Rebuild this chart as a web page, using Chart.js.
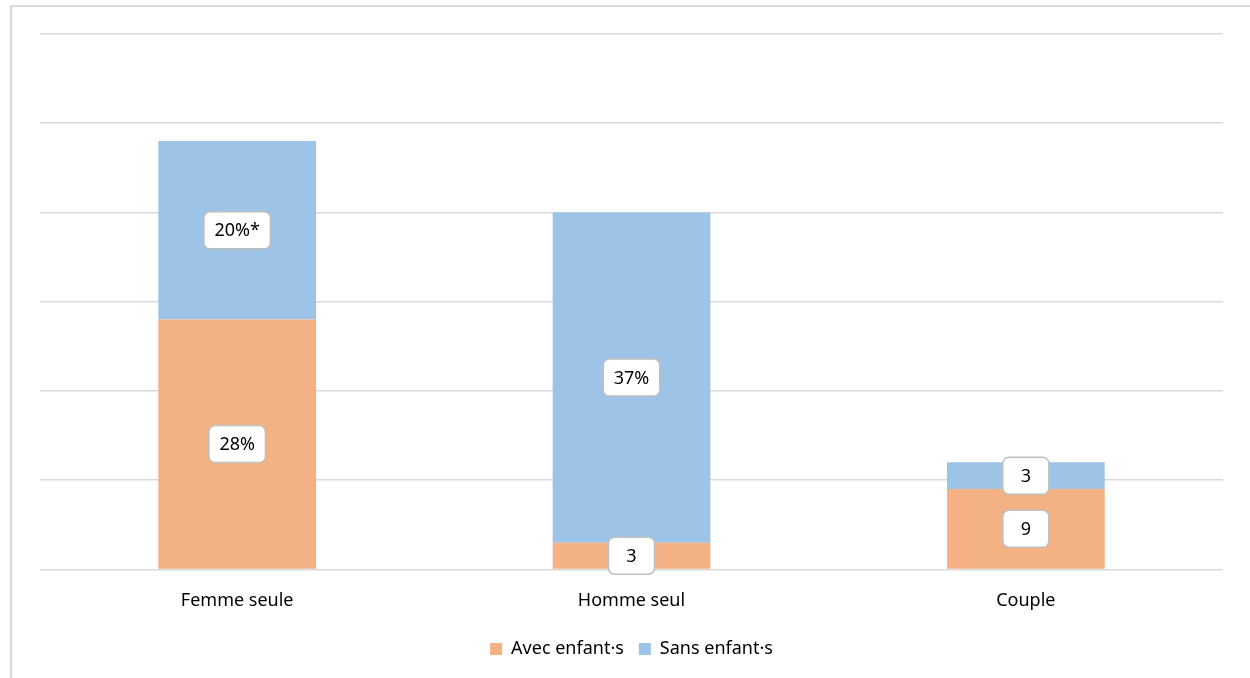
<!DOCTYPE html>
<html>
<head>
<meta charset="utf-8">
<script src="https://cdn.jsdelivr.net/npm/chart.js@4/dist/chart.umd.min.js"></script>
<style>
  body { margin: 0; background: #fff; }
  #frame { position: absolute; left: 10px; top: 5px; width: 1260px; height: 700px; border: 2px solid #d9d9d9; box-sizing: border-box; }
  #chart { position: absolute; left: 0; top: 0; }
</style>
</head>
<body>
<div id="frame"></div>
<canvas id="chart" width="1250" height="678"></canvas>
<script>
// categories and values
const categories = ['Femme seule', 'Homme seul', 'Couple'];
const avecEnfants = [28, 3, 9];
const sansEnfants = [20, 37, 3];
const avecLabels = ['28%', '3', '9'];
const sansLabels = ['20%*', '37%', '3'];

const FONT = '"Noto Sans", sans-serif';

// LABEL BOXES IN THE MIDDLE OF EACH SEGMENT
const boxLabels = {
  id: 'boxLabels',
  afterDatasetsDraw(chart) {
    const ctx = chart.ctx;
    ctx.save();
    ctx.font = '18px ' + FONT;
    ctx.textAlign = 'center';
    ctx.textBaseline = 'middle';
    chart.data.datasets.forEach((ds, i) => {
      const meta = chart.getDatasetMeta(i);
      meta.data.forEach((bar, j) => {
        const txt = ds.labels[j];
        const cy = (bar.y + bar.base) / 2;
        const w = Math.max(ctx.measureText(txt).width + 21, 46);
        const h = 37;
        ctx.beginPath();
        ctx.roundRect(bar.x - w / 2, cy - h / 2, w, h, 6);
        ctx.fillStyle = '#fff';
        ctx.fill();
        ctx.lineWidth = 1.5;
        ctx.strokeStyle = '#bfbfbf';
        ctx.stroke();
        ctx.fillStyle = '#000';
        ctx.fillText(txt, bar.x, cy + 1);
      });
    });
    ctx.restore();
  }
};

new Chart(document.getElementById('chart'), {
  type: 'bar',
  data: {
    labels: categories,
    datasets: [
      { label: 'Avec enfant·s', data: avecEnfants, labels: avecLabels, backgroundColor: '#f4b183' },
      { label: 'Sans enfant·s', data: sansEnfants, labels: sansLabels, backgroundColor: '#9dc3e6' }
    ]
  },
  options: {
    responsive: false,
    animation: false,
    layout: { padding: { left: 40, right: 27, top: 34, bottom: 10 } },
    datasets: { bar: { categoryPercentage: 1, barPercentage: 0.4 } },
    scales: {
      x: {
        stacked: true,
        grid: { display: false },
        border: { display: false },
        ticks: { color: '#000', font: { family: FONT, size: 18 }, padding: 13 }
      },
      y: {
        stacked: true,
        min: 0, max: 60,
        ticks: { display: false, stepSize: 10 },
        grid: { color: '#d9d9d9', lineWidth: 1.5, drawTicks: false },
        border: { display: false }
      }
    },
    plugins: {
      legend: {
        position: 'bottom',
        labels: { color: '#000', font: { family: FONT, size: 18, lineHeight: 0.5 }, boxWidth: 12, boxHeight: 12, padding: 15 }
      },
      tooltip: { enabled: false }
    }
  },
  plugins: [boxLabels]
});
</script>
</body>
</html>
